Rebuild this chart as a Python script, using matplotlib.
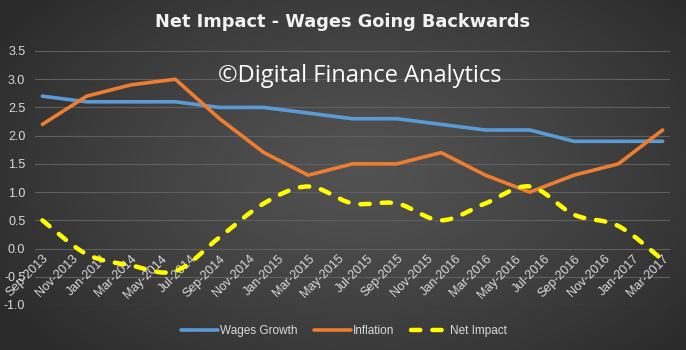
import numpy as np
import matplotlib
matplotlib.use("Agg")
import matplotlib.pyplot as plt
from matplotlib.path import Path
from matplotlib.patches import PathPatch
from matplotlib.lines import Line2D

# Quarterly readings, Sep-2013 .. Mar-2017 (month offsets from Sep-2013)
quarters = ["Sep-2013", "Dec-2013", "Mar-2014", "Jun-2014", "Sep-2014", "Dec-2014",
            "Mar-2015", "Jun-2015", "Sep-2015", "Dec-2015", "Mar-2016", "Jun-2016",
            "Sep-2016", "Dec-2016", "Mar-2017"]
month_offset = [0, 3, 6, 9, 12, 15, 18, 21, 24, 27, 30, 33, 36, 39, 42]
wages_growth = [2.7, 2.6, 2.6, 2.6, 2.5, 2.5, 2.4, 2.3, 2.3, 2.2, 2.1, 2.1, 1.9, 1.9, 1.9]
inflation = [2.2, 2.7, 2.9, 3.0, 2.3, 1.7, 1.3, 1.5, 1.5, 1.7, 1.3, 1.0, 1.3, 1.5, 2.1]
net_impact = [0.5, -0.1, -0.3, -0.4, 0.2, 0.8, 1.1, 0.8, 0.8, 0.5, 0.8, 1.1, 0.6, 0.4, -0.2]

# Axis labels every two months
tick_months = list(range(0, 43, 2))
tick_labels = ["Sep-2013", "Nov-2013", "Jan-2014", "Mar-2014", "May-2014", "Jul-2014",
               "Sep-2014", "Nov-2014", "Jan-2015", "Mar-2015", "May-2015", "Jul-2015",
               "Sep-2015", "Nov-2015", "Jan-2016", "Mar-2016", "May-2016", "Jul-2016",
               "Sep-2016", "Nov-2016", "Jan-2017", "Mar-2017"]
y_ticks = [-1.0, -0.5, 0.0, 0.5, 1.0, 1.5, 2.0, 2.5, 3.0, 3.5]

BLUE = "#5b9bd5"
ORANGE = "#ed7d31"
YELLOW = "#ffff00"
TXT = "#d9d9d9"
FONT = "Liberation Sans"

fig = plt.figure(figsize=(6.86, 3.5), dpi=100)

# dark radial background
bg = fig.add_axes([0, 0, 1, 1], zorder=-10)
yy, xx = np.mgrid[0:350, 0:686]
r = np.sqrt(((xx - 360) / 420.0) ** 2 + ((yy - 170) / 260.0) ** 2)
shade = 0.32 - 0.15 * np.clip(r, 0, 1) ** 1.3
bg.imshow(np.dstack([shade] * 3), extent=[0, 1, 0, 1], aspect="auto")
bg.axis("off")

ax = fig.add_axes([0.051, 0.1286, 0.9257, 0.7257])
ax.patch.set_alpha(0)
ax.set_xlim(-0.5, 42.5)
ax.set_ylim(-1.0, 3.5)

for y in y_ticks:
    ax.axhline(y, color="#5f5f5f", lw=0.8, zorder=1)

ax.plot(month_offset, wages_growth, color=BLUE, lw=2.6, solid_joinstyle="round",
        solid_capstyle="round", zorder=3)
ax.plot(month_offset, inflation, color=ORANGE, lw=2.6, solid_joinstyle="round",
        solid_capstyle="round", zorder=3)

# smoothed net impact curve as cubic Bezier segments (Catmull-Rom control points)
pts = np.column_stack([month_offset, net_impact]).astype(float)
verts = [pts[0]]
codes = [Path.MOVETO]
n = len(pts)
for i in range(n - 1):
    p0 = pts[i - 1] if i > 0 else pts[i]
    p1 = pts[i]
    p2 = pts[i + 1]
    p3 = pts[i + 2] if i + 2 < n else pts[i + 1]
    verts += [p1 + (p2 - p0) / 6.0, p2 - (p3 - p1) / 6.0, p2]
    codes += [Path.CURVE4] * 3
dash = (0, (2.1, 2.7))
curve = PathPatch(Path(verts, codes), facecolor="none", edgecolor=YELLOW, lw=3.2,
                  linestyle=dash, capstyle="round", zorder=4)
ax.add_patch(curve)

# category axis sits on the zero line
for s in ax.spines.values():
    s.set_visible(False)
ax.spines["bottom"].set_position(("data", 0))
ax.set_xticks(tick_months)
ax.set_xticklabels(tick_labels, rotation=45, ha="right", rotation_mode="anchor",
                   fontsize=9, color=TXT, family=FONT)
ax.set_yticks(y_ticks)
ax.set_yticklabels([f"{v:.1f}" for v in y_ticks], fontsize=9, color=TXT, family=FONT)
ax.tick_params(axis="both", length=0)
ax.tick_params(axis="x", pad=3)
ax.tick_params(axis="y", pad=7)

title = fig.text(0.5, 1 - 22 / 350, "Net Impact - Wages Going Backwards", ha="center",
                 va="center", fontsize=12.8, fontweight="bold", color="#f2f2f2",
                 family="DejaVu Sans")
fig.text(218 / 686, 1 - 76 / 350, "\u00a9Digital Finance Analytics", ha="left", va="center",
         fontsize=17, color="white", family="Open Sans")

handles = [Line2D([], [], color=BLUE, lw=2.6, solid_capstyle="round"),
           Line2D([], [], color=ORANGE, lw=2.6, solid_capstyle="round"),
           Line2D([], [], color=YELLOW, lw=3.2, linestyle=dash, dash_capstyle="round")]
leg = fig.legend(handles, ["Wages Growth", "Inflation", "Net Impact"], loc="center",
                 bbox_to_anchor=(344 / 686, 1 - 331 / 350), ncol=3, frameon=False,
                 handlelength=3.1, handletextpad=0.2, columnspacing=1.4,
                 prop={"family": FONT, "size": 8.5})
for t in leg.get_texts():
    t.set_color(TXT)

fig.savefig("out.png", dpi=100)
